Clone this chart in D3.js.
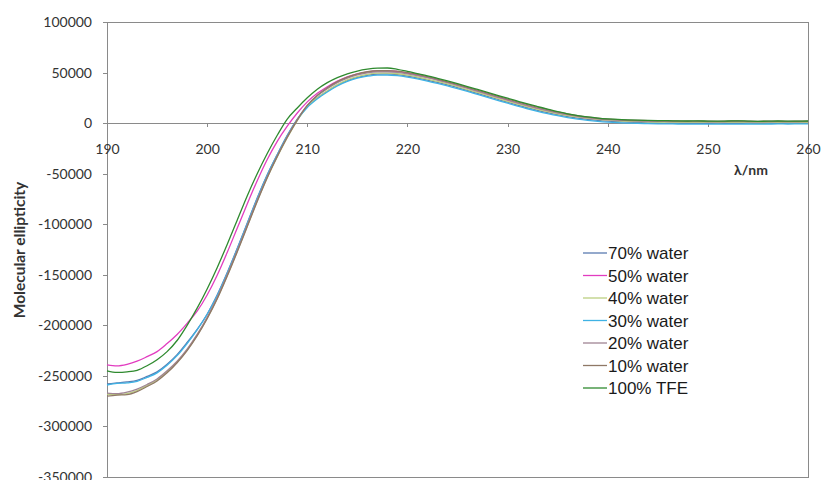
<!DOCTYPE html>
<html>
<head>
<meta charset="utf-8">
<script src="https://cdn.jsdelivr.net/npm/d3@7"></script>
<style>
  html, body { margin: 0; padding: 0; background: #ffffff; }
  svg { display: block; }
</style>
</head>
<body>
<svg id="chart" width="824" height="480"></svg>
<script>
// ---------------- DATA ----------------
const wavelengths = d3.range(190, 261, 1); // nm, 190..260

const seriesNames = ["70% water", "50% water", "40% water", "30% water", "20% water", "10% water", "100% TFE"];

const water70 = [-258000,-257000,-256000,-254500,-250500,-246000,-238500,-229000,-217000,-204000,
  -189000,-170000,-148000,-124000,-99000,-74000,-51000,-31000,-12000,4000,
  16500,25000,31500,37500,42000,45200,47300,48500,48600,47900,
  46500,44700,42600,40300,37800,35100,32300,29400,26500,23600,
  20700,17900,15200,12700,10400,8300,6500,5000,3800,2800,
  2000,1400,900,600,300,100,0,-100,-200,-200,
  -300,-200,-300,-200,-100,-200,0,100,0,100,200];

const water50 = [-239000,-240000,-238500,-235500,-231000,-226000,-218000,-209000,-198000,-186000,
  -170000,-150500,-128000,-104000,-80000,-57000,-36000,-18000,-3000,10000,
  21000,29500,36000,41500,45800,48800,50700,51700,51800,51000,
  49500,47500,45300,42800,40200,37400,34500,31500,28500,25500,
  22500,19600,16800,14200,11800,9600,7800,6300,5000,4000,
  3300,2800,2400,2100,1900,1800,1700,1500,1600,1400,
  1500,1300,1500,1600,1400,1300,1400,1500,1300,1400,1500];

const water40 = [-268000,-268500,-267500,-264500,-259500,-254000,-246000,-236500,-224500,-210000,
  -193000,-173500,-151000,-127000,-102000,-77000,-54000,-33500,-14500,2500,
  16000,25000,32000,38000,42700,46000,48200,49400,49500,48800,
  47400,45600,43500,41200,38700,36000,33200,30300,27400,24500,
  21600,18800,16100,13600,11300,9200,7400,5900,4700,3700,
  2900,2300,1800,1500,1200,1000,900,800,700,800,
  700,600,700,800,600,500,600,700,600,500,600];

const water30 = [-259000,-257500,-257000,-255500,-251500,-247000,-239500,-230000,-218000,-204500,
  -189000,-170500,-148500,-124500,-99500,-74500,-51500,-31500,-12500,3500,
  15500,24000,30800,36700,41200,44400,46400,47500,47600,46900,
  45500,43700,41600,39300,36800,34100,31300,28400,25500,22600,
  19700,16900,14200,11700,9400,7300,5500,4000,2800,1800,
  1000,400,0,-300,-500,-700,-800,-900,-1000,-1000,
  -1100,-1000,-1100,-1000,-900,-1000,-900,-800,-900,-800,-700];

const water20 = [-267000,-267500,-266000,-263000,-258500,-253000,-245000,-235500,-223500,-209000,
  -192000,-172500,-150000,-126000,-101000,-76000,-53000,-32500,-13500,3500,
  17500,27000,34000,40000,44500,47700,49700,50700,50800,50200,
  48800,47000,44900,42500,40000,37300,34500,31600,28700,25800,
  22900,20100,17400,14800,12400,10200,8300,6700,5400,4300,
  3500,2900,2400,2100,1900,1700,1600,1500,1400,1500,
  1300,1200,1400,1600,1300,1200,1300,1400,1200,1300,1400];

const water10 = [-270000,-269000,-268500,-265500,-260500,-255000,-247000,-237000,-225000,-210500,
  -193500,-174000,-151500,-127500,-102500,-77500,-54000,-33000,-14000,3000,
  17500,27500,35000,41000,45500,48800,50800,51800,52000,51400,
  50000,48200,46000,43500,40900,38200,35400,32500,29600,26700,
  23800,21000,18300,15700,13300,11000,9000,7300,5900,4800,
  4000,3400,3000,2700,2500,2300,2200,2100,2000,2100,
  1900,1800,2000,2200,1900,1800,1900,2000,1800,1900,2000];

const tfe100 = [-245000,-246500,-246000,-244500,-240000,-234000,-226000,-215000,-200000,-183000,
  -164000,-143000,-120000,-96000,-72000,-50000,-30000,-12000,4000,15000,
  25000,33500,40000,45000,48700,51500,53300,54300,54500,53200,
  51200,49000,46800,44300,41700,39000,36200,33300,30400,27500,
  24600,21800,19000,16400,13800,11300,9200,7500,6100,5000,
  4200,3600,3200,2900,2700,2500,2400,2200,2100,2200,
  2000,1900,2100,2300,2000,1800,1900,2100,2000,1900,2100];

const xTicks = [190, 200, 210, 220, 230, 240, 250, 260];
const yTicks = [100000, 50000, 0, -50000, -100000, -150000, -200000, -250000, -300000, -350000];

const seriesValues = [water70, water50, water40, water30, water20, water10, tfe100];
const seriesColors = ["#5a7bb0", "#e23cc0", "#bccf80", "#3fb2e4", "#a08494", "#8f7866", "#2f8a2f"];

// ---------------- LAYOUT ----------------
const svg = d3.select("#chart");
const W = 824, H = 480;
const plot = { left: 107, right: 808, top: 22, bottom: 477 };

svg.append("rect").attr("width", W).attr("height", H).attr("fill", "#ffffff");

const x = d3.scaleLinear().domain([190, 260]).range([plot.left, plot.right]);
const y = d3.scaleLinear().domain([-350000, 100000]).range([plot.bottom, plot.top]);

const axisColor = "#8a8a8a";
const labelColor = "#333333";
const tickFont = "Lato, 'Open Sans', sans-serif";
const plainNum = d => String(d); // hyphen-minus like the reference

// Plot border (top, right, bottom)
svg.append("rect")
  .attr("x", plot.left).attr("y", plot.top)
  .attr("width", plot.right - plot.left).attr("height", plot.bottom - plot.top)
  .attr("fill", "none").attr("stroke", axisColor).attr("stroke-width", 1)
  .attr("shape-rendering", "crispEdges");

// Y axis
const yAxis = d3.axisLeft(y).tickValues(yTicks).tickSize(4).tickPadding(11)
  .tickFormat(plainNum);
const gy = svg.append("g").attr("transform", `translate(${plot.left},0)`).call(yAxis);
gy.select(".domain").attr("stroke", axisColor).attr("shape-rendering", "crispEdges");
gy.selectAll(".tick line").attr("stroke", axisColor).attr("shape-rendering", "crispEdges");
gy.selectAll(".tick text").attr("fill", labelColor).style("font-family", tickFont).style("font-size", "14px");

// X axis at y = 0
const xAxis = d3.axisBottom(x).tickValues(xTicks).tickSize(4).tickPadding(17)
  .tickFormat(plainNum);
const gx = svg.append("g").attr("transform", `translate(0,${y(0)})`).call(xAxis);
gx.select(".domain").attr("stroke", axisColor).attr("shape-rendering", "crispEdges");
gx.selectAll(".tick line").attr("stroke", axisColor).attr("shape-rendering", "crispEdges");
gx.selectAll(".tick text").attr("fill", labelColor).style("font-family", tickFont).style("font-size", "14px");

// Axis titles
svg.append("text")
  .attr("transform", `translate(25,250) rotate(-90)`)
  .attr("text-anchor", "middle")
  .style("font-family", tickFont).style("font-size", "15.5px").style("font-weight", "bold")
  .attr("fill", labelColor)
  .text("Molecular ellipticity");

svg.append("text")
  .attr("x", 751).attr("y", 175)
  .attr("text-anchor", "middle")
  .style("font-family", tickFont).style("font-size", "14px").style("font-weight", "bold")
  .attr("fill", labelColor)
  .text("λ/nm");

// Lines
const line = d3.line()
  .x((d, i) => x(wavelengths[i]))
  .y(d => y(d))
  .curve(d3.curveMonotoneX);

seriesValues.forEach((vals, k) => {
  svg.append("path")
    .datum(vals)
    .attr("fill", "none")
    .attr("stroke", seriesColors[k])
    .attr("stroke-width", 1.3)
    .attr("d", line);
});

// Legend
const legend = svg.append("g").attr("transform", "translate(583,253)");
seriesNames.forEach((name, k) => {
  const g = legend.append("g").attr("transform", `translate(0,${k * 22.5})`);
  g.append("line").attr("x1", 0).attr("x2", 24).attr("y1", 0).attr("y2", 0)
    .attr("stroke", seriesColors[k]).attr("stroke-width", 1.3);
  g.append("text").attr("x", 25).attr("y", 6)
    .style("font-family", "'Liberation Sans', Arial, sans-serif").style("font-size", "17px")
    .attr("fill", "#1a1a1a")
    .text(name);
});
</script>
</body>
</html>
